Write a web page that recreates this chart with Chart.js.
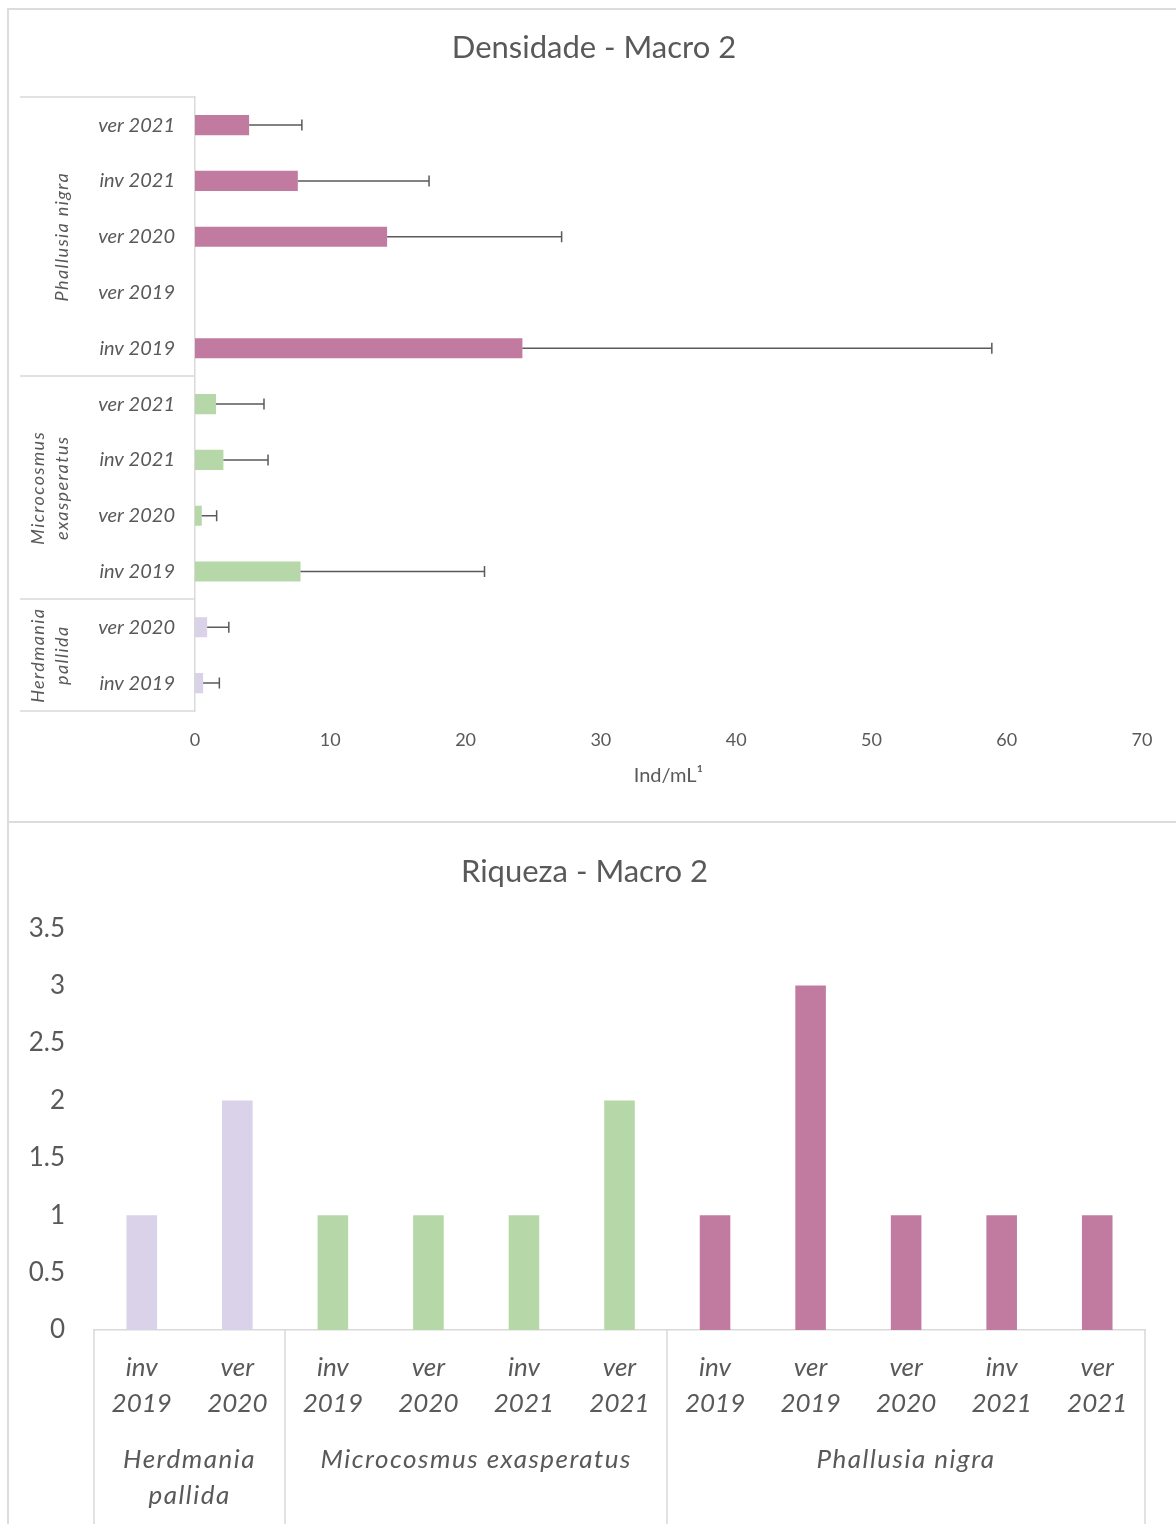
<!DOCTYPE html>
<html>
<head>
<meta charset="utf-8">
<script src="https://cdn.jsdelivr.net/npm/chart.js@4/dist/chart.umd.min.js"></script>
<style>
  html, body { margin: 0; padding: 0; background: #ffffff; }
  body { position: relative; width: 1176px; height: 1524px; overflow: hidden; }
  .panel { position: absolute; left: 7px; border-left: 2px solid #dcdcdc; border-top: 2px solid #dcdcdc; box-sizing: border-box; }
  #panel1 { top: 8px; width: 1169px; height: 814px; }
  #panel2 { top: 821px; width: 1169px; height: 703px; }
  canvas { position: absolute; left: 0; }
  #densidade { top: 0; }
  #riqueza { top: 822px; }
</style>
</head>
<body>
<div class="panel" id="panel1"></div>
<div class="panel" id="panel2"></div>
<canvas id="densidade" width="1176" height="820"></canvas>
<canvas id="riqueza" width="1176" height="702"></canvas>
<script>
// Sampling periods, in the order they were recorded
const seasons = ['inv 2019', 'ver 2020', 'inv 2019', 'ver 2020', 'inv 2021', 'ver 2021',
                 'inv 2019', 'ver 2019', 'ver 2020', 'inv 2021', 'ver 2021'];
// Species index for every period above
const speciesOf = [0, 0, 1, 1, 1, 1, 2, 2, 2, 2, 2];
const species = ['Herdmania pallida', 'Microcosmus exasperatus', 'Phallusia nigra'];
const speciesColors = ['#D9D2E9', '#B6D7A8', '#C27BA0'];

// Density (Ind/mL) and its standard deviation
const densidade = [0.6, 0.9, 7.8, 0.5, 2.1, 1.55, 24.2, 0, 14.2, 7.6, 4.0];
const densidadeErro = [1.2, 1.6, 13.6, 1.1, 3.3, 3.55, 34.7, 0, 12.9, 9.7, 3.9];

// Species richness
const riqueza = [1, 2, 1, 1, 1, 2, 1, 3, 1, 1, 1];

// Axis ticks
const densidadeTicks = [0, 10, 20, 30, 40, 50, 60, 70];
const riquezaTicks = [0, 0.5, 1, 1.5, 2, 2.5, 3, 3.5];

// How each species name is broken into lines on the two charts
const densidadeGroupLines = [['Herdmania', 'pallida'], ['Microcosmus', 'exasperatus'], ['Phallusia nigra']];
const riquezaGroupLines = [['Herdmania', 'pallida'], ['Microcosmus exasperatus'], ['Phallusia nigra']];

const FONT = 'Lato, "Open Sans", sans-serif';
const TEXT = '#595959';
const RULE = '#d9d9d9';

const barColors = speciesOf.map(s => speciesColors[s]);

// Runs of consecutive categories that belong to the same species
function groupRanges() {
  const ranges = [];
  speciesOf.forEach((s, i) => {
    if (!ranges.length || ranges[ranges.length - 1].s !== s) ranges.push({ s, start: i, end: i });
    else ranges[ranges.length - 1].end = i;
  });
  return ranges;
}

// Horizontal error bars with end caps
const errorBars = {
  id: 'errorBars',
  afterDatasetsDraw(chart) {
    const { ctx, scales: { x, y } } = chart;
    ctx.save();
    ctx.strokeStyle = '#5a5a5a';
    ctx.lineWidth = 1.5;
    densidade.forEach((v, i) => {
      const e = densidadeErro[i];
      if (!e) return;
      const yc = y.getPixelForValue(i);
      const x0 = x.getPixelForValue(v);
      const x1 = x.getPixelForValue(v + e);
      ctx.beginPath();
      ctx.moveTo(x0, yc); ctx.lineTo(x1, yc);
      ctx.moveTo(x1, yc - 5.5); ctx.lineTo(x1, yc + 5.5);
      ctx.stroke();
    });
    ctx.restore();
  }
};

// Species brackets on the left of the density chart
const densidadeGroups = {
  id: 'densidadeGroups',
  afterDraw(chart) {
    const { ctx, chartArea, scales: { y } } = chart;
    const ranges = groupRanges();
    const step = Math.abs(y.getPixelForValue(1) - y.getPixelForValue(0));
    ctx.save();
    ctx.strokeStyle = RULE;
    ctx.lineWidth = 1.5;
    const edges = new Set();
    ranges.forEach(r => {
      edges.add(Math.round(y.getPixelForValue(r.start) + step / 2));
      edges.add(Math.round(y.getPixelForValue(r.end) - step / 2));
    });
    edges.forEach(py => {
      ctx.beginPath();
      ctx.moveTo(20, py); ctx.lineTo(chartArea.left, py);
      ctx.stroke();
    });
    ctx.fillStyle = TEXT;
    ctx.font = 'italic 18px ' + FONT;
    ctx.letterSpacing = '1.4px';
    ctx.textAlign = 'center';
    ctx.textBaseline = 'middle';
    ranges.forEach(r => {
      const yc = (y.getPixelForValue(r.start) + y.getPixelForValue(r.end)) / 2;
      const lines = densidadeGroupLines[r.s];
      lines.forEach((t, j) => {
        const px = 62 - (lines.length - 1 - j) * 24;
        ctx.save();
        ctx.translate(px, yc);
        ctx.rotate(-Math.PI / 2);
        ctx.fillText(t, 0, 0);
        ctx.restore();
      });
    });
    ctx.restore();
  }
};

// Species brackets under the richness chart
const riquezaGroups = {
  id: 'riquezaGroups',
  afterDraw(chart) {
    const { ctx, chartArea, scales: { x } } = chart;
    const ranges = groupRanges();
    const step = x.getPixelForValue(1) - x.getPixelForValue(0);
    ctx.save();
    ctx.strokeStyle = RULE;
    ctx.lineWidth = 1.5;
    const edges = new Set();
    ranges.forEach(r => {
      edges.add(Math.round(x.getPixelForValue(r.start) - step / 2));
      edges.add(Math.round(x.getPixelForValue(r.end) + step / 2));
    });
    edges.forEach(px => {
      ctx.beginPath();
      ctx.moveTo(px, chartArea.bottom); ctx.lineTo(px, chart.height);
      ctx.stroke();
    });
    ctx.fillStyle = TEXT;
    ctx.font = 'italic 26px ' + FONT;
    ctx.letterSpacing = '1.5px';
    ctx.textAlign = 'center';
    ctx.textBaseline = 'middle';
    ranges.forEach(r => {
      const xc = (x.getPixelForValue(r.start) + x.getPixelForValue(r.end)) / 2;
      riquezaGroupLines[r.s].forEach((t, j) => {
        ctx.fillText(t, xc, 638 + j * 36);
      });
    });
    ctx.restore();
  }
};

new Chart(document.getElementById('densidade'), {
  type: 'bar',
  data: {
    labels: seasons,
    datasets: [{
      data: densidade,
      backgroundColor: barColors,
      borderWidth: 0,
      barPercentage: 0.36,
      categoryPercentage: 1
    }]
  },
  options: {
    indexAxis: 'y',
    responsive: false,
    animation: false,
    devicePixelRatio: 1,
    layout: { padding: { left: 46, right: 34, top: 0, bottom: 0 } },
    plugins: {
      legend: { display: false },
      tooltip: { enabled: false },
      title: {
        display: true,
        text: 'Densidade - Macro 2',
        color: TEXT,
        font: { family: FONT, size: 31, weight: 'normal' },
        padding: { top: 29, bottom: 31 }
      }
    },
    scales: {
      x: {
        type: 'linear',
        min: densidadeTicks[0],
        max: densidadeTicks[densidadeTicks.length - 1],
        afterBuildTicks(s) { s.ticks = densidadeTicks.map(v => ({ value: v })); },
        ticks: { color: TEXT, font: { family: FONT, size: 18 }, padding: 18 },
        grid: { display: false, drawTicks: false },
        border: { display: false },
        title: {
          display: true,
          text: 'Ind/mL\u00B9',
          color: TEXT,
          font: { family: FONT, size: 20 },
          padding: { top: 0, bottom: 32 }
        },
        afterFit(s) { s.height = 109; }
      },
      y: {
        reverse: true,
        grid: { display: false, drawTicks: false },
        border: { display: true, color: RULE, width: 1.5 },
        ticks: { color: TEXT, font: { family: FONT, size: 20, style: 'italic' }, padding: 20, autoSkip: false },
        afterFit(s) { s.width = 195 - 46; }
      }
    }
  },
  plugins: [errorBars, densidadeGroups]
});

new Chart(document.getElementById('riqueza'), {
  type: 'bar',
  data: {
    labels: seasons.map(s => s.split(' ')),
    datasets: [{
      data: riqueza,
      backgroundColor: barColors,
      borderWidth: 0,
      barPercentage: 0.32,
      categoryPercentage: 1
    }]
  },
  options: {
    responsive: false,
    animation: false,
    devicePixelRatio: 1,
    layout: { padding: { left: 24, right: 31, top: 0, bottom: 0 } },
    plugins: {
      legend: { display: false },
      tooltip: { enabled: false },
      title: {
        display: true,
        text: 'Riqueza - Macro 2',
        color: TEXT,
        font: { family: FONT, size: 31, weight: 'normal' },
        padding: { top: 31, bottom: 38 }
      }
    },
    scales: {
      x: {
        grid: { display: false, drawTicks: false },
        border: { display: true, color: RULE, width: 1.5 },
        ticks: { color: TEXT, font: { family: FONT, size: 26, style: 'italic', lineHeight: 1.4 }, padding: 19, maxRotation: 0, autoSkip: false },
        afterFit(s) { s.height = 194; }
      },
      y: {
        min: riquezaTicks[0],
        max: riquezaTicks[riquezaTicks.length - 1],
        afterBuildTicks(s) { s.ticks = riquezaTicks.map(v => ({ value: v })); },
        grid: { display: false, drawTicks: false },
        border: { display: false },
        ticks: { color: TEXT, font: { family: FONT, size: 26 }, padding: 29, callback: v => String(v) },
        afterFit(s) { s.width = 94 - 24; }
      }
    }
  },
  plugins: [riquezaGroups]
});
</script>
</body>
</html>
